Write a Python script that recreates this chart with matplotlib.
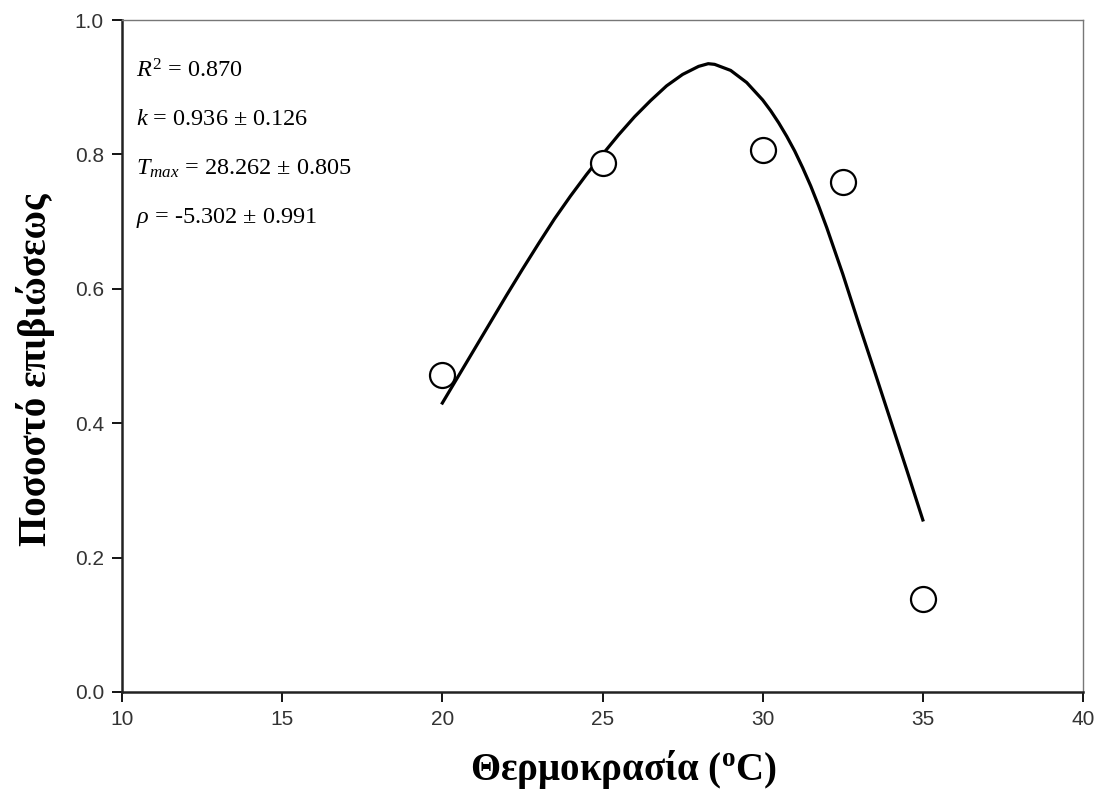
import matplotlib
matplotlib.use("Agg")
import matplotlib.pyplot as plt

plt.rcParams["font.family"] = ["Liberation Sans", "DejaVu Sans"]
plt.rcParams["mathtext.fontset"] = "custom"
plt.rcParams["mathtext.rm"] = "Liberation Serif"
plt.rcParams["mathtext.it"] = "Liberation Serif:italic"
plt.rcParams["mathtext.bf"] = "Liberation Serif:bold"

# observed survival
temp = [20, 25, 30, 32.5, 35]
survival = [0.472, 0.787, 0.806, 0.759, 0.138]

# fitted curve
fit_temp = [20.0, 20.5, 21.0, 21.5, 22.0, 22.5, 23.0, 23.5, 24.0, 24.5, 25.0,
            25.5, 26.0, 26.5, 27.0, 27.5, 28.0, 28.3, 28.5, 29.0, 29.5, 30.0,
            30.25, 30.5, 30.75, 31.0, 31.25, 31.5, 31.75, 32.0, 32.5, 33.0,
            33.5, 34.0, 34.5, 35.0]
fit_surv = [0.430, 0.470, 0.510, 0.550, 0.590, 0.629, 0.667, 0.704, 0.738, 0.770, 0.800,
            0.829, 0.856, 0.880, 0.902, 0.919, 0.931, 0.935, 0.934, 0.925, 0.907, 0.881,
            0.865, 0.847, 0.827, 0.805, 0.780, 0.753, 0.723, 0.691, 0.622, 0.548,
            0.476, 0.403, 0.330, 0.256]

stats = [r"$R^2$ = 0.870",
         r"$k$ = 0.936 ± 0.126",
         r"$T_{max}$ = 28.262 ± 0.805",
         r"$\rho$ = -5.302 ± 0.991"]

fig = plt.figure(figsize=(11.04, 8.10), dpi=100)
ax = fig.add_axes([0.1105, 0.1457, 0.8705, 0.8296])

ax.plot(fit_temp, fit_surv, color="black", lw=2.3, zorder=2)
ax.plot(temp, survival, "o", ms=18, mfc="white", mec="black", mew=1.6,
        linestyle="none", zorder=3)

ax.set_xlim(10, 40)
ax.set_ylim(0, 1.0)
ax.set_xticks(range(10, 41, 5))
ax.set_yticks([0.0, 0.2, 0.4, 0.6, 0.8, 1.0])
ax.set_yticklabels(["0.0", "0.2", "0.4", "0.6", "0.8", "1.0"])
ax.tick_params(direction="out", length=7, width=1.3, labelsize=15,
               labelcolor="#333333", pad=6)

for side in ["left", "bottom"]:
    ax.spines[side].set_linewidth(1.8)
    ax.spines[side].set_color("#222222")
for side in ["top", "right"]:
    ax.spines[side].set_linewidth(1.0)
    ax.spines[side].set_color("#777777")

ax.set_xlabel(r"Θερμοκρασία ($^{\mathbf{o}}$C)", family="Liberation Serif",
              fontweight="bold", fontsize=28, labelpad=14)
ax.set_ylabel("Ποσοστό επιβιώσεως", family="Liberation Serif",
              fontweight="bold", fontsize=28, labelpad=14)
ax.xaxis.label.set_x(0.522)
ax.yaxis.label.set_y(0.48)

for i, s in enumerate(stats):
    ax.text(0.015, 0.925 - i * 0.073, s, transform=ax.transAxes,
            family="Liberation Serif", fontsize=17.5, va="center", ha="left")

fig.savefig("out.png", dpi=100)
